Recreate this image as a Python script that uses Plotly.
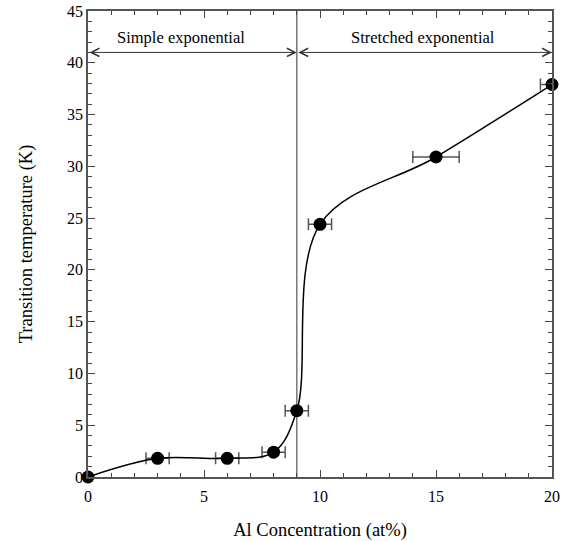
import plotly.graph_objects as go

conc = [0, 3, 6, 8, 9, 10, 15, 20]
temp = [0, 1.8, 1.8, 2.4, 6.4, 24.4, 30.9, 37.9]
err_plus = [0, 0.5, 0.5, 0.5, 0.5, 0.5, 1.0, 0]
err_minus = [0, 0.5, 0.5, 0.5, 0.5, 0.5, 1.0, 0.5]

boundary = 9
arrow_y = 41
region_labels = ["Simple exponential", "Stretched exponential"]
region_starts = [0, 9]
region_ends = [9, 20]
label_x = [4.0, 14.45]

FONT = "Liberation Serif"

fig = go.Figure()
fig.add_trace(go.Scatter(
    x=conc, y=temp, mode="lines+markers",
    line=dict(color="black", width=1.5, shape="spline", smoothing=1.0),
    marker=dict(color="black", size=13),
    error_x=dict(type="data", symmetric=False, array=err_plus, arrayminus=err_minus,
                 color="#555555", thickness=1.5, width=6),
    cliponaxis=False, showlegend=False, hoverinfo="skip",
))

fig.add_shape(type="line", x0=boundary, x1=boundary, y0=0, y1=45, xref="x", yref="y",
              line=dict(color="#777777", width=1.5), layer="below")

for label, a, b, lx in zip(region_labels, region_starts, region_ends, label_x):
    fig.add_annotation(x=b, y=arrow_y, ax=a, ay=arrow_y, xref="x", yref="y",
                       axref="x", ayref="y", text="", showarrow=True,
                       arrowhead=5, startarrowhead=5, arrowside="end+start",
                       arrowsize=1.6, startarrowsize=1.6, arrowwidth=1, arrowcolor="#333333")
    fig.add_annotation(x=lx, y=arrow_y, xref="x", yref="y", text=label,
                       showarrow=False, yshift=15, font=dict(family=FONT, size=16.5, color="black"))

axis_common = dict(showgrid=False, zeroline=False, showline=True, linecolor="#555555",
                   linewidth=1.5, mirror="ticks", ticks="inside", ticklen=7, tickwidth=1.2,
                   tickcolor="#444444", automargin=False, ticklabeloverflow="allow",
                   tickfont=dict(family=FONT, size=16, color="black"))

fig.update_xaxes(range=[0, 20], tick0=0, dtick=5, ticklabelstandoff=4,
                 minor=dict(dtick=1, ticks="inside", ticklen=4, tickcolor="#444444", tickwidth=1.2),
                 title=dict(text="Al Concentration (at%)", font=dict(family=FONT, size=18.5, color="black"), standoff=24),
                 **axis_common)
fig.update_yaxes(range=[0, 45], tick0=0, dtick=5,
                 minor=dict(dtick=1, ticks="inside", ticklen=4, tickcolor="#444444", tickwidth=1.2),
                 title=dict(text="Transition temperature (K)", font=dict(family=FONT, size=18.5, color="black"), standoff=30),
                 **axis_common)

fig.update_layout(width=567, height=541, margin=dict(l=88, r=15, t=11, b=64),
                  plot_bgcolor="white", paper_bgcolor="white")

fig.write_html("out.html", config={"displayModeBar": False},
               post_script="document.body.style.margin='0';")
